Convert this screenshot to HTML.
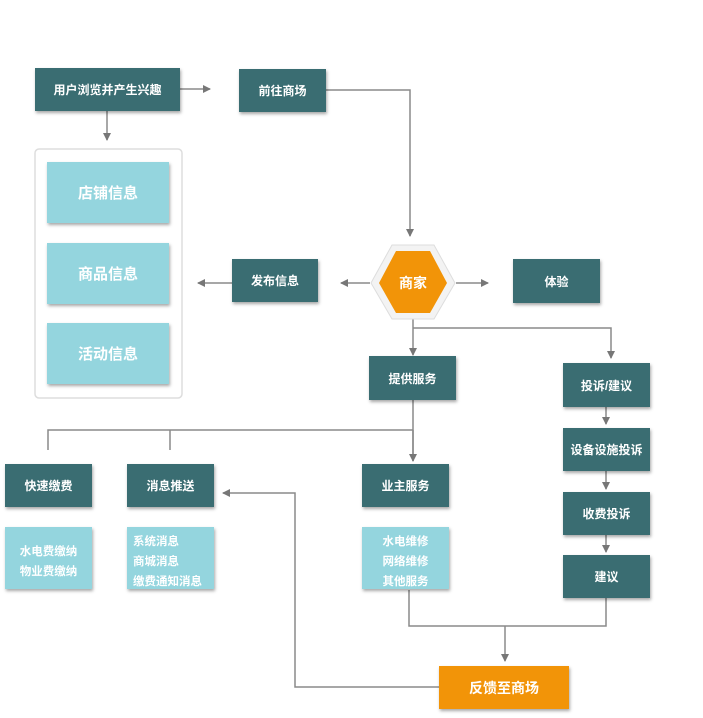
<!DOCTYPE html>
<html><head><meta charset="utf-8"><style>
body{margin:0;width:703px;height:718px;background:#fff;position:relative;overflow:hidden;font-family:"Liberation Sans","Noto Sans CJK SC",sans-serif;font-weight:bold}
.d,.l,.o{position:absolute;display:flex;align-items:center;justify-content:center;color:#fff;box-shadow:1px 2px 3px rgba(0,0,0,.35);text-align:center}
.d{background:#3a6d72;font-size:12px}
.l{background:#94d5de;font-size:15px}
.o{background:#f29408;font-size:14px}
.s{font-size:11.5px;line-height:20px;box-sizing:border-box;padding-top:8px}
svg{position:absolute;left:0;top:0}
</style></head><body>
<svg width="703" height="718">
<defs><marker id="a" markerWidth="8" markerHeight="8" refX="7" refY="4" orient="auto" markerUnits="userSpaceOnUse"><path d="M0,0L8,4L0,8z" fill="#777"/></marker></defs>
<g stroke="#8a8a8a" stroke-width="1.5" fill="none">
<rect x="35" y="149" width="147" height="249" rx="4" stroke="#ddd"/>
<path d="M180 89H210" marker-end="url(#a)"/>
<path d="M107 111V140" marker-end="url(#a)"/>
<path d="M326 90H410V236" marker-end="url(#a)"/>
<path d="M232 283H198" marker-end="url(#a)"/>
<path d="M370 283H341" marker-end="url(#a)"/>
<path d="M456 283H488" marker-end="url(#a)"/>
<path d="M413 319V355" marker-end="url(#a)"/>
<path d="M413 328H611V358" marker-end="url(#a)"/>
<path d="M413 400V430H48V450M170 430V450M413 430V461" />
<path d="M413 430V461" marker-end="url(#a)"/>
<path d="M606 407V424" marker-end="url(#a)"/>
<path d="M606 471V489" marker-end="url(#a)"/>
<path d="M606 535V552" marker-end="url(#a)"/>
<path d="M409 590V626H606V598"/>
<path d="M505 626V661" marker-end="url(#a)"/>
<path d="M439 687H295V493H223" marker-end="url(#a)"/>
</g>
<polygon points="371,283 392,245 434,245 455,283 434,319 392,319" fill="#f3f3f3" stroke="#ddd"/>
<polygon points="379,283 396,251 430,251 447,283 430,313 396,313" fill="#f29408"/>
<text x="413" y="288" fill="#fff" font-size="14" font-weight="bold" text-anchor="middle" font-family="Liberation Sans,Noto Sans CJK SC,sans-serif">商家</text>
</svg>
<div class="d" style="left:35px;top:68px;width:145px;height:43px">用户浏览并产生兴趣</div>
<div class="d" style="left:239px;top:69px;width:87px;height:43px">前往商场</div>
<div class="l" style="left:47px;top:162px;width:122px;height:61px">店铺信息</div>
<div class="l" style="left:47px;top:243px;width:122px;height:61px">商品信息</div>
<div class="l" style="left:47px;top:323px;width:122px;height:61px">活动信息</div>
<div class="d" style="left:232px;top:259px;width:86px;height:43px">发布信息</div>
<div class="d" style="left:513px;top:259px;width:87px;height:44px">体验</div>
<div class="d" style="left:369px;top:356px;width:87px;height:44px">提供服务</div>
<div class="d" style="left:563px;top:363px;width:87px;height:44px">投诉/建议</div>
<div class="d" style="left:563px;top:428px;width:87px;height:43px">设备设施投诉</div>
<div class="d" style="left:563px;top:492px;width:87px;height:43px">收费投诉</div>
<div class="d" style="left:563px;top:555px;width:87px;height:43px">建议</div>
<div class="d" style="left:5px;top:464px;width:87px;height:43px">快速缴费</div>
<div class="d" style="left:127px;top:464px;width:87px;height:43px">消息推送</div>
<div class="d" style="left:362px;top:464px;width:87px;height:43px">业主服务</div>
<div class="l s" style="left:5px;top:527px;width:87px;height:62px">水电费缴纳<br>物业费缴纳</div>
<div class="l s" style="left:127px;top:527px;width:87px;height:62px;justify-content:flex-start;text-align:left"><span style="padding-left:6px">系统消息<br>商城消息<br>缴费通知消息</span></div>
<div class="l s" style="left:362px;top:527px;width:87px;height:62px">水电维修<br>网络维修<br>其他服务</div>
<div class="o" style="left:439px;top:666px;width:130px;height:43px">反馈至商场</div>
</body></html>
